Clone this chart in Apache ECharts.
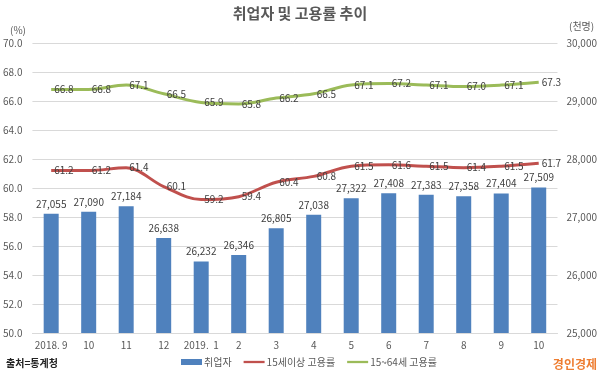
<!DOCTYPE html>
<html><head><meta charset="utf-8">
<script src="https://cdn.jsdelivr.net/npm/echarts@6/dist/echarts.min.js"></script>
<style>html,body{margin:0;padding:0;background:#fff}#c{width:600px;height:380px}</style>
</head><body><div id="c"></div>
<script>
const categories = ['2018. 9','10','11','12','2019.  1','2','3','4','5','6','7','8','9','10'];
const employed = [27055,27090,27184,26638,26232,26346,26805,27038,27322,27408,27383,27358,27404,27509];
const rate15 = [61.2,61.2,61.4,60.1,59.2,59.4,60.4,60.8,61.5,61.6,61.5,61.4,61.5,61.7];
const rate1564 = [66.8,66.8,67.1,66.5,65.9,65.8,66.2,66.5,67.1,67.2,67.1,67.0,67.1,67.3];
const seriesNames = ['취업자','15세이상 고용률','15~64세 고용률'];

const FONT = '"Noto Sans CJK KR","Noto Sans",sans-serif';
const chart = echarts.init(document.getElementById('c'), null, {renderer:'canvas'});
const lineLabel = {show:true, position:'right', distance:3, color:'#404040', fontSize:10, fontFamily:FONT,
  formatter: p => p.value.toFixed(1)};
const lineIcon = 'path://M0,0H22V2.4H0Z';
chart.setOption({
  animation:false,
  textStyle:{fontFamily:FONT},
  title:{text:'취업자 및 고용률 추이', left:'center', top:1,
    textStyle:{fontSize:15, fontWeight:'bold', color:'#595959', fontFamily:FONT}},
  grid:{left:32, right:42, top:43, bottom:47},
  legend:{bottom:8, left:176, itemWidth:21, itemHeight:6, itemGap:12, symbolKeepAspect:true,
    textStyle:{fontSize:10, color:'#595959', fontFamily:FONT, padding:[0,0,0,-3]},
    data:[{name:seriesNames[0], icon:'rect'},
          {name:seriesNames[1], icon:lineIcon, itemStyle:{color:'#c0504d'}},
          {name:seriesNames[2], icon:lineIcon, itemStyle:{color:'#9bbb59'}}]},
  xAxis:{type:'category', data:categories,
    axisLine:{lineStyle:{color:'#d9d9d9'}}, axisTick:{show:false},
    axisLabel:{color:'#595959', fontSize:10, margin:7, interval:0}},
  yAxis:[
    {type:'value', min:50, max:70, interval:2,
     axisLabel:{color:'#595959', fontSize:10, margin:10, formatter:v=>v.toFixed(1)},
     splitLine:{lineStyle:{color:'#d9d9d9'}}, axisLine:{show:false}, axisTick:{show:false}},
    {type:'value', min:25000, max:30000, interval:1000,
     axisLabel:{color:'#595959', fontSize:10, margin:9, formatter:v=>v.toLocaleString('en-US')},
     splitLine:{show:false}, axisLine:{show:false}, axisTick:{show:false}}
  ],
  series:[
    {name:seriesNames[0], type:'bar', yAxisIndex:1, data:employed, barWidth:15,
     itemStyle:{color:'#4f81bd'},
     label:{show:true, position:'top', distance:5, color:'#404040', fontSize:10,
       formatter:p=>p.value.toLocaleString('en-US')}},
    {name:seriesNames[1], type:'line', yAxisIndex:0, data:rate15, smooth:0.35,
     symbol:'circle', symbolSize:0.01, showSymbol:true,
     lineStyle:{color:'#c0504d', width:3}, itemStyle:{color:'#c0504d'}, label:lineLabel, z:3},
    {name:seriesNames[2], type:'line', yAxisIndex:0, data:rate1564, smooth:0.35,
     symbol:'circle', symbolSize:0.01, showSymbol:true,
     lineStyle:{color:'#9bbb59', width:3}, itemStyle:{color:'#9bbb59'}, label:lineLabel, z:3}
  ],
  graphic:[
    {type:'text', left:10, top:25, style:{text:'(%)', fontSize:10, fill:'#595959', fontFamily:FONT}},
    {type:'text', left:569, top:21, style:{text:'(천명)', fontSize:10, fill:'#595959', fontFamily:FONT}},
    {type:'text', left:6, top:358, style:{text:'출처=통계청', fontSize:10, fontWeight:'bold', fill:'#222', fontFamily:FONT}},
    {type:'text', right:3, top:358, style:{text:'경인경제', fontSize:12, fontWeight:'bold', fill:'#ee7d31', fontFamily:FONT}}
  ]
});
</script></body></html>
